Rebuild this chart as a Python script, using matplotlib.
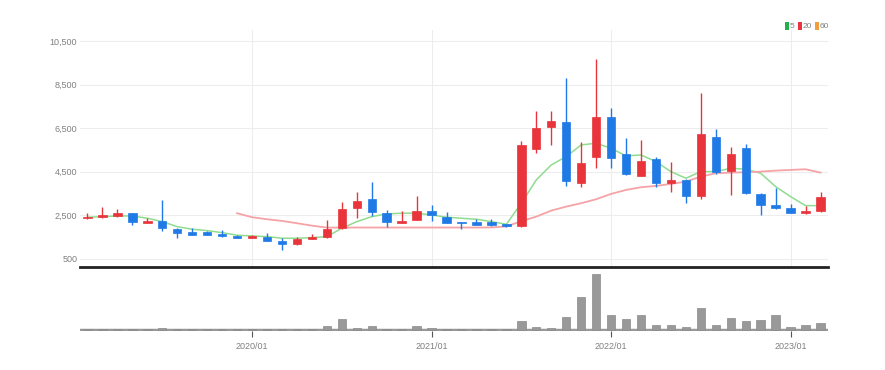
import numpy as np
import matplotlib
matplotlib.use('agg')
import matplotlib.pyplot as plt
from matplotlib.patches import Rectangle

# monthly candles 2019/02 .. 2023/03
months = ["2019/%02d" % m for m in range(2, 13)] + \
         ["2020/%02d" % m for m in range(1, 13)] + \
         ["2021/%02d" % m for m in range(1, 13)] + \
         ["2022/%02d" % m for m in range(1, 13)] + \
         ["2023/%02d" % m for m in range(1, 4)]

opens = [2380, 2420, 2450, 2600, 2150, 2250, 1860, 1740, 1720, 1660,
         1570, 1470, 1500, 1330, 1170, 1420, 1500, 1900, 2850, 3250,
         2620, 2170, 2300, 2700, 2430, 2200, 2210, 2200, 2100, 1990,
         5530, 6540, 6800, 4000, 5190, 7030, 5320, 4320, 5070, 4000,
         4120, 3390, 6110, 4540, 5600, 3480, 2960, 2850, 2600, 2700]
highs = [2620, 2870, 2800, 2620, 2370, 3200, 1900, 1900, 1780, 1820,
         1620, 1600, 1700, 1480, 1500, 1650, 2290, 3130, 3560, 4050,
         2750, 2720, 3400, 2980, 2640, 2210, 2330, 2330, 2120, 5920,
         7290, 7290, 8820, 5880, 9670, 7410, 6040, 5960, 5170, 4960,
         4160, 8100, 6450, 5650, 5760, 3540, 3740, 3010, 2930, 3590]
lows = [2330, 2400, 2420, 2060, 2130, 1800, 1450, 1600, 1590, 1520,
        1440, 1440, 1300, 900, 1130, 1400, 1450, 1850, 2400, 2450,
        1980, 2150, 2280, 2260, 2130, 1860, 2040, 2000, 1980, 1980,
        5380, 5730, 3860, 3820, 4690, 4660, 4350, 4300, 3820, 3590,
        3060, 3240, 4380, 3440, 3500, 2520, 2810, 2590, 2580, 2640]
closes = [2440, 2520, 2600, 2210, 2250, 1910, 1680, 1620, 1620, 1540,
          1470, 1560, 1310, 1200, 1430, 1510, 1860, 2780, 3180, 2640,
          2200, 2250, 2700, 2500, 2150, 2140, 2060, 2070, 1990, 5730,
          6520, 6840, 4090, 4890, 7030, 5150, 4400, 5010, 4000, 4120,
          3390, 6220, 4500, 5300, 3510, 2960, 2830, 2610, 2720, 3360]
volumes = [3, 10, 3, 3, 3, 17, 7, 3, 3, 3,
           3, 7, 7, 7, 7, 7, 33, 107, 20, 33,
           7, 7, 33, 17, 7, 7, 7, 3, 3, 83,
           30, 13, 130, 326, 553, 150, 110, 143, 43, 50,
           30, 216, 50, 116, 83, 96, 143, 26, 43, 63]

ma5 = [2413, 2440, 2472, 2472, 2367, 2211, 1981, 1862, 1798, 1706,
       1587, 1555, 1523, 1450, 1450, 1477, 1523, 1908, 2211, 2440,
       2564, 2596, 2596, 2518, 2413, 2367, 2320, 2211, 2091, 3055,
       4124, 4812, 5193, 5729, 5806, 5577, 5224, 5270, 4963, 4505,
       4201, 4505, 4505, 4660, 4613, 4430, 3816, 3358, 2945, 2945]
ma20 = [np.nan] * 10 + \
       [2596, 2413, 2320, 2243, 2138, 2027, 1936, 1940, 1940, 1940,
        1940, 1940, 1940, 1940, 1940, 1940, 1940, 1945, 1990, 2230,
        2440, 2716, 2900, 3055, 3238, 3482, 3665, 3789, 3848, 3940,
        4046, 4275, 4430, 4460, 4475, 4505, 4551, 4582, 4613, 4460]

price_ticks = [500, 2500, 4500, 6500, 8500, 10500]
year_ticks = ["2020/01", "2021/01", "2022/01", "2023/01"]
legend_items = [("5", "#22b14c"), ("20", "#e8343a"), ("60", "#f39c3c")]

UP = "#e8343a"
DOWN = "#1f7ae6"
GRID = "#ededed"
TXT = "#808080"

plt.rcParams['font.family'] = ['Liberation Sans Narrow', 'DejaVu Sans Condensed', 'Liberation Sans', 'DejaVu Sans']

W, H = 885, 370
fig = plt.figure(figsize=(W / 100, H / 100), dpi=100)


def rect(l, t, r, b):
    return [l / W, 1 - b / H, (r - l) / W, (b - t) / H]


ax = fig.add_axes(rect(80, 30, 828, 267))
vax = fig.add_axes(rect(80, 268, 828, 331), sharex=ax)

x = np.arange(len(months))
year_x = [months.index(m) for m in year_ticks]

# candles
for i in x:
    o, h, l, c = opens[i], highs[i], lows[i], closes[i]
    col = UP if c >= o else DOWN
    ax.vlines(i, l, h, color=col, lw=1, zorder=3)
    lo, hi = min(o, c), max(o, c)
    ax.add_patch(Rectangle((i - 0.28, lo), 0.56, max(hi - lo, 40),
                           facecolor=col, edgecolor=col, lw=0.5, zorder=4))

ax.plot(x, ma5, color="#8fdc8f", lw=1.1, zorder=2)
ax.plot(x, ma20, color="#f5a3a6", lw=1.3, zorder=2)

ax.set_xlim(-0.5, len(months) - 0.5)
ax.set_ylim(130, 11000)
ax.set_yticks(price_ticks)
ax.set_yticklabels(["{:,}".format(v) for v in price_ticks])
ax.tick_params(axis='y', length=0, labelsize=6.5, labelcolor=TXT, pad=2)
ax.tick_params(axis='x', length=0, labelbottom=False)
ax.set_xticks(year_x)
ax.grid(True, color=GRID, lw=0.8)
ax.set_axisbelow(True)
for s in ["top", "right", "left"]:
    ax.spines[s].set_visible(False)
ax.spines["bottom"].set_color("#222222")
ax.spines["bottom"].set_linewidth(2)

# legend (top right)
lx = 785
for lab, col in legend_items:
    fig.patches.append(Rectangle((lx / W, 1 - 29.5 / H), 4 / W, 7 / H,
                                 transform=fig.transFigure, facecolor=col,
                                 edgecolor='none'))
    t = fig.text((lx + 5) / W, 1 - 26 / H, lab, color=TXT, fontsize=6,
                 va='center', ha='left')
    lx += 5 + 4.5 * len(lab) + 3

# volume
vax.bar(x, volumes, width=0.56, color="#999999", edgecolor="#8a8a8a", lw=0.5, zorder=3)
vax.axhline(0, color="#999999", lw=2.5, zorder=2)
vax.set_ylim(-15, 615)
vax.set_yticks([])
vax.set_xticks(year_x)
vax.set_xticklabels(year_ticks)
vax.tick_params(axis='x', length=4, color="#555555", labelsize=6.5, labelcolor=TXT, pad=4)
for s in ["top", "right", "left", "bottom"]:
    vax.spines[s].set_visible(False)
vax.set_facecolor("none")

fig.savefig("out.png", dpi=100)
